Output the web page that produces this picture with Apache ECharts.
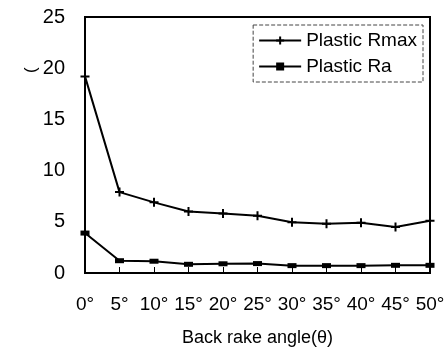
<!DOCTYPE html>
<html>
<head>
<meta charset="utf-8">
<script src="https://cdn.jsdelivr.net/npm/echarts@6/dist/echarts.min.js"></script>
<style>
  html, body { margin: 0; padding: 0; background: #fff; }
  #chart { width: 447px; height: 349px; }
</style>
</head>
<body>
<div id="chart"></div>
<script>
const angles = ['0°', '5°', '10°', '15°', '20°', '25°', '30°', '35°', '40°', '45°', '50°']
const rmax = [19.2, 7.9, 6.9, 6.0, 5.8, 5.6, 4.95, 4.8, 4.9, 4.5, 5.1]
const ra = [3.9, 1.2, 1.15, 0.85, 0.9, 0.92, 0.72, 0.72, 0.72, 0.75, 0.75]

const font = 'Liberation Sans, Arial, sans-serif'
const plus = 'path://M0,5 L10,5 M5,0 L5,10'

const chart = echarts.init(document.getElementById('chart'), undefined, { renderer: 'canvas' })
chart.setOption({
  animation: false,
  backgroundColor: '#fff',
  grid: {
    left: 85, right: 17, top: 17, bottom: 76,
    outerBoundsMode: 'none', containLabel: false,
    show: true, borderColor: '#000', borderWidth: 2
  },
  legend: {
    right: 24, top: 25,
    orient: 'vertical',
    itemGap: 7,
    itemWidth: 42,
    itemHeight: 10,
    padding: [6, 6, 6, 5],
    borderColor: '#444',
    borderWidth: 1,
    borderType: 'dashed',
    textStyle: { color: '#000', fontSize: 19, fontFamily: font },
    data: ['Plastic Rmax', 'Plastic Ra']
  },
  xAxis: {
    type: 'category',
    data: angles,
    boundaryGap: false,
    name: 'Back rake angle(θ)',
    nameLocation: 'middle',
    nameGap: 56,
    nameTextStyle: { color: '#000', fontSize: 18, fontFamily: font },
    axisLine: { lineStyle: { color: '#000', width: 2 } },
    axisTick: { inside: true, length: 6, interval: 0, lineStyle: { color: '#000', width: 1 } },
    axisLabel: { color: '#000', fontSize: 19, fontFamily: font, margin: 22, interval: 0, hideOverlap: false },
    splitLine: { show: false }
  },
  yAxis: {
    type: 'value',
    min: 0, max: 25, interval: 5,
    axisLine: { show: true, lineStyle: { color: '#000', width: 2 } },
    axisTick: { show: false },
    axisLabel: { color: '#000', fontSize: 20, fontFamily: font, margin: 20 },
    splitLine: { show: false }
  },
  graphic: [{
    type: 'text', x: 23, y: 73, rotation: Math.PI / 2,
    style: { text: '(', fontSize: 17, fontFamily: font, fill: '#000' }
  }],
  series: [
    {
      name: 'Plastic Rmax',
      type: 'line',
      data: rmax,
      symbol: plus,
      symbolSize: 9,
      lineStyle: { color: '#000', width: 2 },
      itemStyle: { color: '#000', borderColor: '#000', borderWidth: 2 }
    },
    {
      name: 'Plastic Ra',
      type: 'line',
      data: ra,
      symbol: 'rect',
      symbolSize: [9, 5],
      lineStyle: { color: '#000', width: 2 },
      itemStyle: { color: '#000' }
    }
  ]
})
</script>
</body>
</html>
